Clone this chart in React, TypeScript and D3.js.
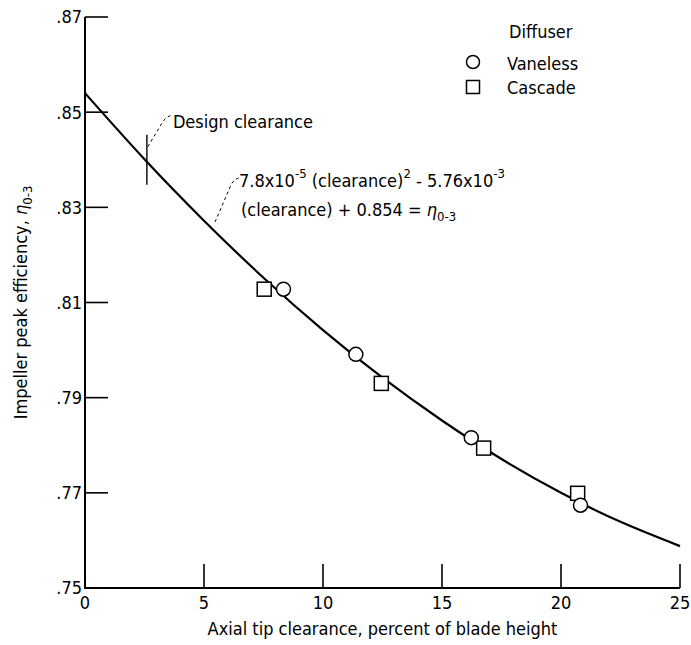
import React from "react";
import * as d3 from "d3";

const xTicks = [0, 5, 10, 15, 20, 25];
const yTicks = [0.75, 0.77, 0.79, 0.81, 0.83, 0.85, 0.87];
const yTickLabels = [".75", ".77", ".79", ".81", ".83", ".85", ".87"];

// fitted curve
const curveX = [0, 2.5, 5, 7.5, 10, 12.5, 15, 17.5, 20, 22.5, 25];
const curveY = [0.854, 0.8401, 0.8272, 0.8152, 0.8042, 0.7942, 0.7852, 0.7771, 0.77, 0.7639, 0.7588];

const vanelessX = [8.34, 11.38, 16.23, 20.82];
const vanelessY = [0.8128, 0.7991, 0.7816, 0.7674];
const cascadeX = [7.53, 12.45, 16.75, 20.7];
const cascadeY = [0.8128, 0.793, 0.7794, 0.7699];

const designClearance = 2.6;
const designClearanceEff = 0.8396;

const FONT = "'Liberation Sans Narrow', 'DejaVu Sans Condensed', 'Arial Narrow', sans-serif";

export default function App() {
  const W = 691, H = 645;
  const x = d3.scaleLinear().domain([0, 25]).range([85, 680]);
  const y = d3.scaleLinear().domain([0.75, 0.87]).range([588, 17]);
  const line = d3
    .line<number>()
    .x((_, i) => x(curveX[i]))
    .y((d) => y(d))
    .curve(d3.curveNatural);
  const curveD = line(curveY) || "";
  const dcX = x(designClearance);
  const dcY = y(designClearanceEff);
  const fs = 18;
  const sub = 13;
  return (
    <svg
      width={W}
      height={H}
      style={{ position: "absolute", left: 0, top: 0, background: "#fff" }}
      fontFamily={FONT}
      fontSize={fs}
    >
      <rect width={W} height={H} fill="#fff" />
      {/* axes */}
      <line x1={x(0)} x2={x(0)} y1={y(0.87)} y2={y(0.75) + 1} stroke="#000" strokeWidth={2} />
      <line x1={x(0) - 1} x2={x(25)} y1={y(0.75)} y2={y(0.75)} stroke="#000" strokeWidth={2} />
      {yTicks.map((t, i) => (
        <g key={"y" + i}>
          {i > 0 && <line x1={x(0)} x2={x(0) + 23} y1={y(t)} y2={y(t)} stroke="#000" strokeWidth={1.6} />}
          <text x={x(0) - 3} y={y(t)} dy="0.36em" textAnchor="end">
            {yTickLabels[i]}
          </text>
        </g>
      ))}
      {xTicks.map((t, i) => (
        <g key={"x" + i}>
          {i > 0 && <line x1={x(t)} x2={x(t)} y1={y(0.75)} y2={y(0.75) - 24} stroke="#000" strokeWidth={1.6} />}
          <text x={x(t)} y={609} textAnchor="middle">
            {t}
          </text>
        </g>
      ))}
      <text x={(x(0) + x(25)) / 2} y={635} textAnchor="middle">
        Axial tip clearance, percent of blade height
      </text>
      <text transform={`translate(27,${(y(0.75) + y(0.87)) / 2}) rotate(-90)`} textAnchor="middle">
        Impeller peak efficiency, <tspan fontStyle="italic">η</tspan>
        <tspan fontSize={sub} dy={5}>0-3</tspan>
      </text>

      {/* curve */}
      <path d={curveD} fill="none" stroke="#000" strokeWidth={2.2} />

      {/* design clearance */}
      <line x1={dcX} x2={dcX} y1={dcY - 27} y2={dcY + 23} stroke="#000" strokeWidth={1.4} />
      <path
        d={`M${dcX + 1},${dcY - 15} L${dcX + 16},${dcY - 40} Q${dcX + 20},${dcY - 46} ${dcX + 25},${dcY - 46}`}
        fill="none"
        stroke="#000"
        strokeWidth={1}
        strokeDasharray="3,3"
      />
      <text x={dcX + 26} y={128}>Design clearance</text>

      {/* equation */}
      <path d="M215,222 L231,185 Q234,179 239,178" fill="none" stroke="#000" strokeWidth={1} strokeDasharray="3,3" />
      <text x={239} y={187}>
        7.8x10<tspan fontSize={sub} dy={-9}>-5</tspan>
        <tspan dy={9}> (clearance)</tspan>
        <tspan fontSize={sub} dy={-9}>2</tspan>
        <tspan dy={9}> - 5.76x10</tspan>
        <tspan fontSize={sub} dy={-9}>-3</tspan>
      </text>
      <text x={241} y={216}>
        (clearance) + 0.854 = <tspan fontStyle="italic">η</tspan>
        <tspan fontSize={sub} dy={5}>0-3</tspan>
      </text>

      {/* data */}
      {cascadeX.map((v, i) => (
        <rect
          key={"c" + i}
          x={x(v) - 7}
          y={y(cascadeY[i]) - 7}
          width={14}
          height={14}
          fill="#fff"
          stroke="#000"
          strokeWidth={1.5}
        />
      ))}
      {vanelessX.map((v, i) => (
        <circle key={"v" + i} cx={x(v)} cy={y(vanelessY[i])} r={7} fill="#fff" stroke="#000" strokeWidth={1.5} />
      ))}

      {/* legend */}
      <text x={509} y={38}>Diffuser</text>
      <circle cx={473} cy={62} r={6.5} fill="#fff" stroke="#000" strokeWidth={1.5} />
      <text x={507} y={70}>Vaneless</text>
      <rect x={466.5} y={80.5} width={13} height={13} fill="#fff" stroke="#000" strokeWidth={1.5} />
      <text x={507} y={94}>Cascade</text>
    </svg>
  );
}
